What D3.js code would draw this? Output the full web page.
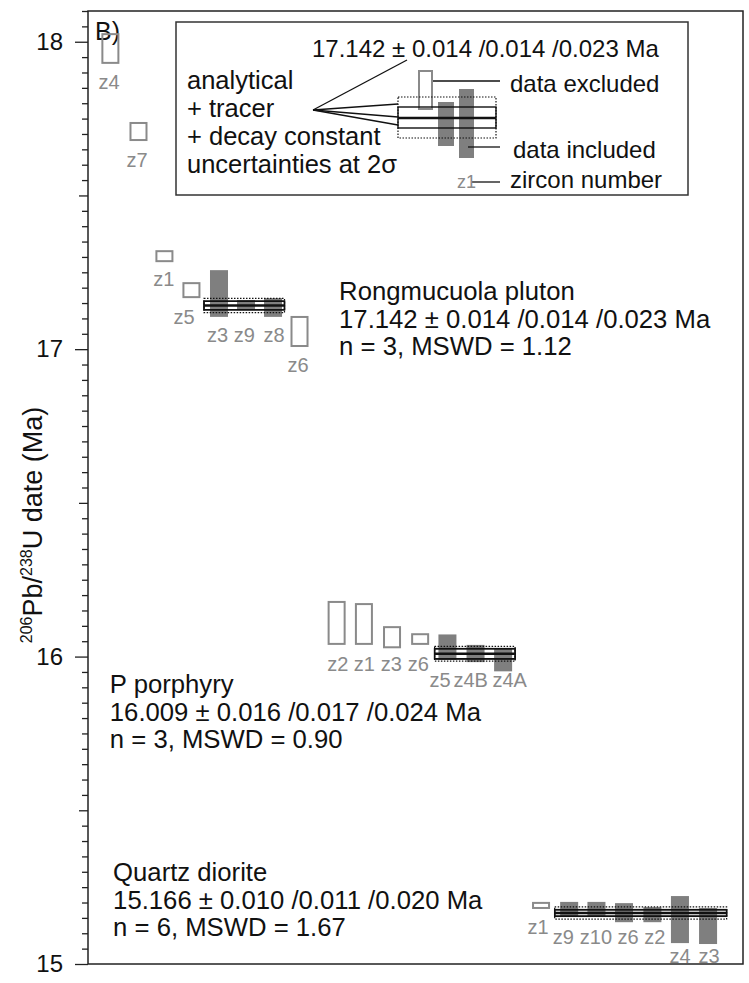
<!DOCTYPE html>
<html>
<head>
<meta charset="utf-8">
<script src="https://cdn.jsdelivr.net/npm/d3@7"></script>
<style>
body { margin: 0; background: #fff; }
text { font-family: "Liberation Sans", Arial, sans-serif; }
</style>
</head>
<body>
<div id="chart"></div>
<script>
// sample summaries
var groupName = ["Rongmucuola pluton", "P porphyry", "Quartz diorite"];
var groupMean = [17.142, 16.009, 15.166];
var groupAnalytical = [0.014, 0.016, 0.010];
var groupTracer = [0.014, 0.017, 0.011];
var groupDecay = [0.023, 0.024, 0.020];
var groupN = [3, 3, 6];
var groupMSWD = ["1.12", "0.90", "1.67"];
var groupSpan = [[4.25, 7.2], [12.7, 15.65], [17.1, 23.4]];   // x extent of weighted mean box (slot units)
var groupTextSlot = [9.2, 0.8, 0.92];
var groupTextAge = [17.160, 15.8815, 15.270];

// single zircon analyses (2 sigma ranges, Ma)
var zirconGroup = [0,0,0,0,0,0,0,0, 1,1,1,1,1,1,1, 2,2,2,2,2,2,2];
var zirconName = ["z4","z7","z1","z5","z3","z9","z8","z6",
                  "z2","z1","z3","z6","z5","z4B","z4A",
                  "z1","z9","z10","z6","z2","z4","z3"];
var zirconSlot = [0.82,1.85,2.80,3.79,4.80,5.79,6.78,7.75,
                  9.11,10.11,11.14,12.17,13.17,14.20,15.21,
                  16.6,17.63,18.63,19.64,20.68,21.69,22.72];
var zirconHigh = [18.028,17.739,17.322,17.218,17.257,17.160,17.166,17.108,
                  16.181,16.174,16.099,16.076,16.072,16.038,16.027,
                  15.202,15.202,15.202,15.198,15.185,15.221,15.182];
var zirconLow  = [17.928,17.677,17.283,17.166,17.105,17.127,17.105,17.007,
                  16.038,16.038,16.027,16.038,15.989,15.982,15.952,
                  15.179,15.156,15.156,15.136,15.136,15.068,15.065];
var zirconIncluded = [0,0,0,0,1,1,1,0, 0,0,0,0,1,1,1, 0,1,1,1,1,1,1];
// where each zircon number sits
var zirconLabelSlot = [0.77,1.80,2.78,3.52,4.75,5.73,6.82,7.70,
                       9.15,10.12,11.11,12.10,12.90,14.02,15.45,
                       16.49,17.42,18.61,19.79,20.77,21.69,22.76];
var zirconLabelAge = [17.869,17.615,17.228,17.105,17.046,17.046,17.046,16.948,
                      15.976,15.976,15.976,15.976,15.924,15.924,15.924,
                      15.120,15.088,15.088,15.088,15.088,15.026,15.026];

var majorTicks = [15, 16, 17, 18];

var width = 749, height = 983;
var grey = "#8a8a8a", fillGrey = "#7f7f7f";

var svg = d3.select("#chart").append("svg")
    .attr("width", width)
    .attr("height", height);

var x = d3.scaleLinear().domain([0, 24]).range([88, 743]);
var y = d3.scaleLinear().domain([15, 18.1]).range([964, 11]);
var barW = 0.66;

// y axis ticks
var minorTicks = d3.range(0, 63).map(function (i) { return +(15 + i * 0.05).toFixed(2); })
    .filter(function (v) { return Math.abs(v - Math.round(v * 2) / 2) > 1e-6; });
var halfTicks = [15.5, 16.5, 17.5];

function styleAxis(g) {
    g.select(".domain").remove();
    g.selectAll("line").attr("stroke", "#222").attr("stroke-width", 1.3);
}
svg.append("g").attr("transform", "translate(" + x(0) + ",0)")
    .call(d3.axisLeft(y).tickValues(minorTicks).tickSize(6).tickFormat(""))
    .call(styleAxis);
svg.append("g").attr("transform", "translate(" + x(0) + ",0)")
    .call(d3.axisLeft(y).tickValues(halfTicks).tickSize(9).tickFormat(""))
    .call(styleAxis);
var gY = svg.append("g").attr("transform", "translate(" + x(0) + ",0)")
    .call(d3.axisLeft(y).tickValues(majorTicks).tickSize(13).tickPadding(12).tickFormat(d3.format("d")))
    .call(styleAxis);
gY.selectAll("text").attr("font-size", 24).attr("fill", "#111")
    .style("font-family", '"Liberation Sans", Arial, sans-serif');

// frame
svg.append("rect")
    .attr("x", x(0)).attr("y", y(18.1))
    .attr("width", x(24) - x(0)).attr("height", y(15) - y(18.1))
    .attr("fill", "none").attr("stroke", "#222").attr("stroke-width", 1.5);

// y axis title
var yt = svg.append("text")
    .attr("transform", "translate(42," + 525 + ") rotate(-90)")
    .attr("text-anchor", "middle")
    .attr("font-size", 27).attr("fill", "#111");
yt.append("tspan").attr("font-size", 16).attr("dy", -10).text("206");
yt.append("tspan").attr("dy", 10).text("Pb/");
yt.append("tspan").attr("font-size", 16).attr("dy", -10).text("238");
yt.append("tspan").attr("dy", 10).text("U date (Ma)");

// panel letter
svg.append("text").attr("x", 95).attr("y", 40).attr("font-size", 25).attr("fill", "#111").text("B)");

var zircons = zirconName.map(function (n, i) {
    return { name: n, group: zirconGroup[i], slot: zirconSlot[i], hi: zirconHigh[i],
             lo: zirconLow[i], inc: zirconIncluded[i],
             labelSlot: zirconLabelSlot[i], labelAge: zirconLabelAge[i] };
});

// excluded analyses (open boxes)
svg.append("g").selectAll("rect")
    .data(zircons.filter(function (d) { return !d.inc; }))
    .enter().append("rect")
    .attr("x", function (d) { return x(d.slot - barW / 2) + 1; })
    .attr("y", function (d) { return y(d.hi) + 1; })
    .attr("width", x(barW) - x(0) - 2)
    .attr("height", function (d) { return Math.max(y(d.lo) - y(d.hi) - 2, 1); })
    .attr("fill", "none").attr("stroke", grey).attr("stroke-width", 2);

// included analyses (filled bars)
svg.append("g").selectAll("rect")
    .data(zircons.filter(function (d) { return d.inc; }))
    .enter().append("rect")
    .attr("x", function (d) { return x(d.slot - barW / 2); })
    .attr("y", function (d) { return y(d.hi); })
    .attr("width", x(barW) - x(0))
    .attr("height", function (d) { return y(d.lo) - y(d.hi); })
    .attr("fill", fillGrey);

// weighted mean boxes
groupMean.forEach(function (m, i) {
    var x0 = x(groupSpan[i][0]), x1 = x(groupSpan[i][1]);
    var g = svg.append("g");
    g.append("rect").attr("x", x0).attr("y", y(m + groupDecay[i]))
        .attr("width", x1 - x0).attr("height", y(m - groupDecay[i]) - y(m + groupDecay[i]))
        .attr("fill", "none").attr("stroke", "#111").attr("stroke-width", 1.2)
        .attr("stroke-dasharray", "1.5,1.5");
    [groupTracer[i], groupAnalytical[i]].forEach(function (u) {
        g.append("rect").attr("x", x0).attr("y", y(m + u))
            .attr("width", x1 - x0).attr("height", y(m - u) - y(m + u))
            .attr("fill", "none").attr("stroke", "#111").attr("stroke-width", 1.4);
    });
    g.append("line").attr("x1", x0).attr("x2", x1).attr("y1", y(m)).attr("y2", y(m))
        .attr("stroke", "#111").attr("stroke-width", 2.6);
});

// zircon labels
svg.append("g").selectAll("text")
    .data(zircons)
    .enter().append("text")
    .attr("x", function (d) { return x(d.labelSlot); })
    .attr("y", function (d) { return y(d.labelAge); })
    .attr("dy", "0.35em")
    .attr("text-anchor", "middle")
    .attr("font-size", 20).attr("fill", grey)
    .text(function (d) { return d.name; });

// sample annotations
groupName.forEach(function (name, i) {
    var lines = [name,
        groupMean[i].toFixed(3) + " \u00b1 " + groupAnalytical[i].toFixed(3) + " /" +
            groupTracer[i].toFixed(3) + " /" + groupDecay[i].toFixed(3) + " Ma",
        "n = " + groupN[i] + ", MSWD = " + groupMSWD[i]];
    svg.append("g").selectAll("text").data(lines).enter().append("text")
        .attr("x", x(groupTextSlot[i]))
        .attr("y", function (d, k) { return y(groupTextAge[i]) + k * 27.7; })
        .attr("font-size", 25.7).attr("fill", "#111")
        .text(function (d) { return d; });
});

// legend
var lg = svg.append("g").attr("transform", "translate(176,22)");
lg.append("rect").attr("width", 512).attr("height", 173)
    .attr("fill", "#fff").attr("stroke", "#333").attr("stroke-width", 1.5);
lg.append("text").attr("x", 136).attr("y", 35).attr("font-size", 24).attr("fill", "#111")
    .text("17.142 \u00b1 0.014 /0.014 /0.023 Ma");
["analytical", "+ tracer", "+ decay constant", "uncertainties at 2\u03c3"].forEach(function (t, k) {
    lg.append("text").attr("x", 11).attr("y", 67 + k * 28).attr("font-size", 25.5).attr("fill", "#111").text(t);
});
lg.append("rect").attr("x", 243).attr("y", 49).attr("width", 13).attr("height", 38)
    .attr("fill", "none").attr("stroke", grey).attr("stroke-width", 2);
lg.append("rect").attr("x", 262).attr("y", 80).attr("width", 16).attr("height", 44).attr("fill", fillGrey);
lg.append("rect").attr("x", 283).attr("y", 67).attr("width", 15).attr("height", 69).attr("fill", fillGrey);
lg.append("rect").attr("x", 222).attr("y", 75).attr("width", 98).attr("height", 41)
    .attr("fill", "none").attr("stroke", "#111").attr("stroke-width", 1.2).attr("stroke-dasharray", "1.5,1.5");
lg.append("rect").attr("x", 222).attr("y", 85).attr("width", 98).attr("height", 21)
    .attr("fill", "none").attr("stroke", "#111").attr("stroke-width", 1.4);
lg.append("line").attr("x1", 222).attr("x2", 320).attr("y1", 96).attr("y2", 96)
    .attr("stroke", "#111").attr("stroke-width", 2.6);
[[231, 38], [222, 82], [222, 95], [222, 103]].forEach(function (p) {
    lg.append("line").attr("x1", 137).attr("y1", 88).attr("x2", p[0]).attr("y2", p[1])
        .attr("stroke", "#111").attr("stroke-width", 1.3);
});
lg.append("line").attr("x1", 257).attr("x2", 324).attr("y1", 59).attr("y2", 59).attr("stroke", "#111").attr("stroke-width", 1.3);
lg.append("line").attr("x1", 292).attr("x2", 324).attr("y1", 125).attr("y2", 125).attr("stroke", "#111").attr("stroke-width", 1.3);
lg.append("line").attr("x1", 296).attr("x2", 324).attr("y1", 160).attr("y2", 160).attr("stroke", "#111").attr("stroke-width", 1.3);
lg.append("text").attr("x", 334).attr("y", 70).attr("font-size", 24).attr("fill", "#111").text("data excluded");
lg.append("text").attr("x", 337).attr("y", 136).attr("font-size", 24).attr("fill", "#111").text("data included");
lg.append("text").attr("x", 334).attr("y", 166).attr("font-size", 24).attr("fill", "#111").text("zircon number");
lg.append("text").attr("x", 281).attr("y", 166).attr("font-size", 18).attr("fill", grey).text("z1");
</script>
</body>
</html>
